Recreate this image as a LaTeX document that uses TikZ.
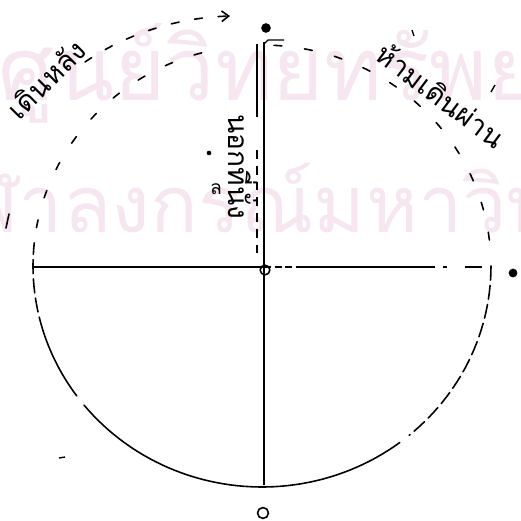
\documentclass[tikz,border=0pt]{standalone}
\usepackage{fontspec}
\newfontfamily\thaifont[Script=Thai]{Loma}
\usetikzlibrary{arrows.meta}
\definecolor{wmpink}{RGB}{246,230,239}
\tikzset{
  rim/.style    ={line width=0.9pt, line cap=round},
  rimdash/.style={rim, dash pattern=on 4.5pt off 13pt},
  rimlong/.style={rim, dash pattern=on 8pt off 3pt},
  axis/.style   ={line width=0.8pt},
  pole/.style   ={line width=1.5pt},
  lbl/.style    ={font=\thaifont\fontsize{16}{16}\selectfont, inner sep=0pt},
  wm/.style     ={text=wmpink, font=\thaifont\fontsize{50}{50}\selectfont, anchor=base west, inner sep=0pt},
  ring/.style   ={draw, circle, line width=0.9pt, minimum size=5.5pt, inner sep=0pt},
  blob/.style   ={fill, circle, minimum size=5.5pt, inner sep=0pt},
}

\begin{document}
\begin{tikzpicture}[x=0.02cm, y=-0.02cm]
  \useasboundingbox (0,0) rectangle (521,521);
  % pale watermark behind everything
  \begin{scope}
    \clip (0,0) rectangle (521,521);
    \node[wm] (wmtop) at (-2,100)  {ศูนย์วิทยทรัพยากร};
    \node[wm, font=\thaifont\fontsize{45}{45}\selectfont] (wmbot) at (-82,232) {จุฬาลงกรณ์มหาวิทยาลัย};
  \end{scope}

  \coordinate (ctr) at (264,267);
  \coordinate (n)   at (264,42);
  \coordinate (s)   at (264,485);
  \coordinate (w)   at (33,267);
  \coordinate (e)   at (490,267);
  \coordinate (ea)  at (300,267);
  \coordinate (eb)  at (435,267);

  % rim -- solid below, sparse dashes above
  \draw[rimlong] plot[domain=0:50,    samples=30] ({262+229*cos(\x)},{266+221*sin(\x)});
  \draw[rim]     plot[domain=53:141,  samples=50] ({262+229*cos(\x)},{266+221*sin(\x)});
  \draw[rim]     plot[domain=144:163, samples=15] ({262+229*cos(\x)},{266+221*sin(\x)});
  \draw[rimlong] plot[domain=163:186, samples=15] ({262+229*cos(\x)},{266+221*sin(\x)});
  \draw[rimdash] plot[domain=190:258, samples=40] ({262+229*cos(\x)},{266+221*sin(\x)});
  \draw[rimdash] plot[domain=273:358, samples=40] ({262+229*cos(\x)},{266+221*sin(\x)});

  % outer path round the back (broken by its label)
  \coordinate (ostart) at (85,62);
  \coordinate (oend)   at (230,16);
  \draw[rim] (6,228) -- (9,214);
  \draw[rimdash, dash pattern=on 4.5pt off 9pt, -{Straight Barb[length=4pt,width=6pt]}]
    (ostart) .. controls (120,38) and (170,18) .. (oend);

  % axes
  \draw[pole] (n) -- (s);
  \draw[axis] (w) -- (ctr);
  \draw[axis, dash pattern=on 4pt off 2pt] (ctr) -- (ea);
  \draw[axis] (ea) -- (eb);
  \draw[axis, dash pattern=on 0pt off 4.5pt on 2.3pt off 10pt on 10pt off 4pt] (eb) -- (e);
  \draw[axis] (264,44) -- (268,40) -- (284,40);

  % thin line beside the pole
  \coordinate (pa) at (257,44);
  \coordinate (pb) at (257,117);
  \coordinate (pc) at (257,150);
  \coordinate (pd) at (257,253);
  \draw[axis, line width=0.6pt] (pa) -- (pb);
  \draw[axis, line width=0.6pt, dash pattern=on 5pt off 4pt] (pc) -- (pd);

  % point marks
  \node[ring] (o)   at (265,270) {};
  \node[ring, minimum size=6.2pt] (bot) at (263,513) {};
  \node[blob] (top) at (266,28) {};
  \node[blob, minimum size=5pt] (rt) at (513,273) {};
  \node[blob, minimum size=2.6pt] (spot) at (209,153) {};
  \draw[axis] (59,458) -- (65,457);
  \draw[axis] (412,30) -- (414,36);
  \draw[axis] (491,92) -- (495,85);

  % labels
  \node[lbl, rotate=45]  (behind) at (46,79)   {เดินหลัง};
  \node[lbl, rotate=-37] (nopass) at (441,95)  {ห้ามเดินผ่าน};
  \node[lbl, rotate=-90] (seat)   at (243,167) {นอกที่นั่ง};
  \node[lbl, font=\thaifont\fontsize{11}{11}\selectfont] (lo) at (216,189) {ล};
\end{tikzpicture}
\end{document}
